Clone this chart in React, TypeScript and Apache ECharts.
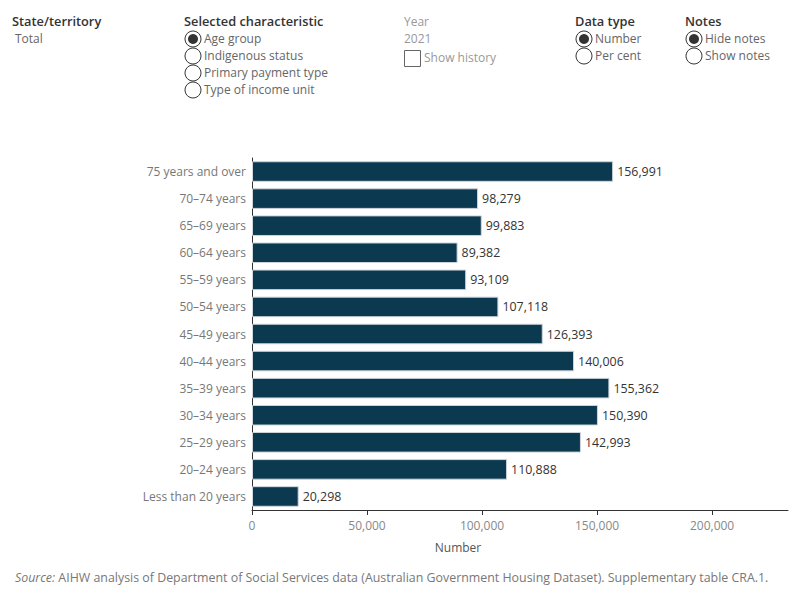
import React, { useEffect, useRef } from "react";
import * as echarts from "echarts";

const categories = [
  "Less than 20 years",
  "20–24 years",
  "25–29 years",
  "30–34 years",
  "35–39 years",
  "40–44 years",
  "45–49 years",
  "50–54 years",
  "55–59 years",
  "60–64 years",
  "65–69 years",
  "70–74 years",
  "75 years and over",
];
const values = [20298, 110888, 142993, 150390, 155362, 140006, 126393, 107118, 93109, 89382, 99883, 98279, 156991];
const xTicks = [0, 50000, 100000, 150000, 200000];

const FONT = "'Open Sans', 'Noto Sans', sans-serif";
const fmt = (v: number) => v.toLocaleString("en-US");

function radio(cx: number, cy: number, selected: boolean) {
  const els: any[] = [
    { type: "circle", shape: { cx, cy, r: 8 }, style: { fill: "#fff", stroke: "#333", lineWidth: 1 } },
  ];
  if (selected) els.push({ type: "circle", shape: { cx, cy, r: 5 }, style: { fill: "#333" } });
  return els;
}
function txt(x: number, y: number, text: string, color = "#666", bold = false) {
  return {
    type: "text",
    x,
    y,
    style: {
      text,
      fill: color,
      font: bold ? `600 12.8px ${FONT}` : `12px ${FONT}`,
      textVerticalAlign: "middle",
    },
  };
}

export default function App() {
  const ref = useRef<HTMLDivElement>(null);
  useEffect(() => {
    const chart = echarts.init(ref.current!, undefined, { renderer: "svg" });
    const graphic: any[] = [
      txt(12, 21, "State/territory", "#333", true),
      txt(15, 38, "Total"),
      txt(184, 21, "Selected characteristic", "#333", true),
      ...radio(193, 39, true),
      txt(204, 38, "Age group"),
      ...radio(193, 56, false),
      txt(204, 55, "Indigenous status"),
      ...radio(193, 73, false),
      txt(204, 72, "Primary payment type"),
      ...radio(193, 90, false),
      txt(204, 89, "Type of income unit"),
      txt(404, 21, "Year", "#999"),
      txt(404, 38, "2021", "#999"),
      { type: "rect", shape: { x: 404.5, y: 50.5, width: 16, height: 16 }, style: { fill: "#fff", stroke: "#666", lineWidth: 1 } },
      txt(424, 57, "Show history", "#999"),
      txt(575, 21, "Data type", "#333", true),
      ...radio(584, 39, true),
      txt(595, 38, "Number"),
      ...radio(584, 56, false),
      txt(595, 55, "Per cent"),
      txt(685, 21, "Notes", "#333", true),
      ...radio(694, 39, true),
      txt(705, 38, "Hide notes"),
      ...radio(694, 56, false),
      txt(705, 55, "Show notes"),
      {
        type: "text",
        x: 458,
        y: 547,
        style: { text: "Number", fill: "#555", font: `12px ${FONT}`, textAlign: "center", textVerticalAlign: "middle" },
      },
      {
        type: "text",
        x: 15,
        y: 577,
        style: {
          text: "{i|Source:} AIHW analysis of Department of Social Services data (Australian Government Housing Dataset). Supplementary table CRA.1.",
          fill: "#777",
          font: `12.4px ${FONT}`,
          textVerticalAlign: "middle",
          rich: { i: { fontStyle: "italic", fill: "#777", fontFamily: FONT, fontSize: 12.4 } },
        },
      },
    ];
    chart.setOption({
      animation: false,
      textStyle: { fontFamily: FONT },
      grid: { left: 252, right: 12, top: 158, bottom: 90, containLabel: false },
      xAxis: {
        type: "value",
        min: 0,
        max: 233000,
        interval: 50000,
        axisLine: { show: true, lineStyle: { color: "#333" } },
        axisTick: { show: true, length: 5, lineStyle: { color: "#333" } },
        splitLine: { show: false },
        axisLabel: {
          color: "#888",
          fontSize: 12,
          margin: 9,
          showMaxLabel: false,
          formatter: (v: number) => (xTicks.includes(v) ? fmt(v) : ""),
        },
      },
      yAxis: {
        type: "category",
        data: categories,
        axisLine: { show: true, lineStyle: { color: "#333" } },
        axisTick: { show: false },
        axisLabel: { color: "#777", fontSize: 12, margin: 6 },
      },
      series: [
        {
          type: "bar",
          data: values,
          barCategoryGap: "24%",
          itemStyle: { color: "#0b3950", borderColor: "#d0d6da", borderWidth: 1 },
          label: {
            show: true,
            position: "right",
            distance: 4,
            color: "#333",
            fontSize: 12.4,
            formatter: (p: any) => fmt(p.value),
          },
        },
      ],
      graphic,
    });
    return () => chart.dispose();
  }, []);
  return <div ref={ref} style={{ width: 800, height: 600, position: "absolute", left: 0, top: 0 }} />;
}
